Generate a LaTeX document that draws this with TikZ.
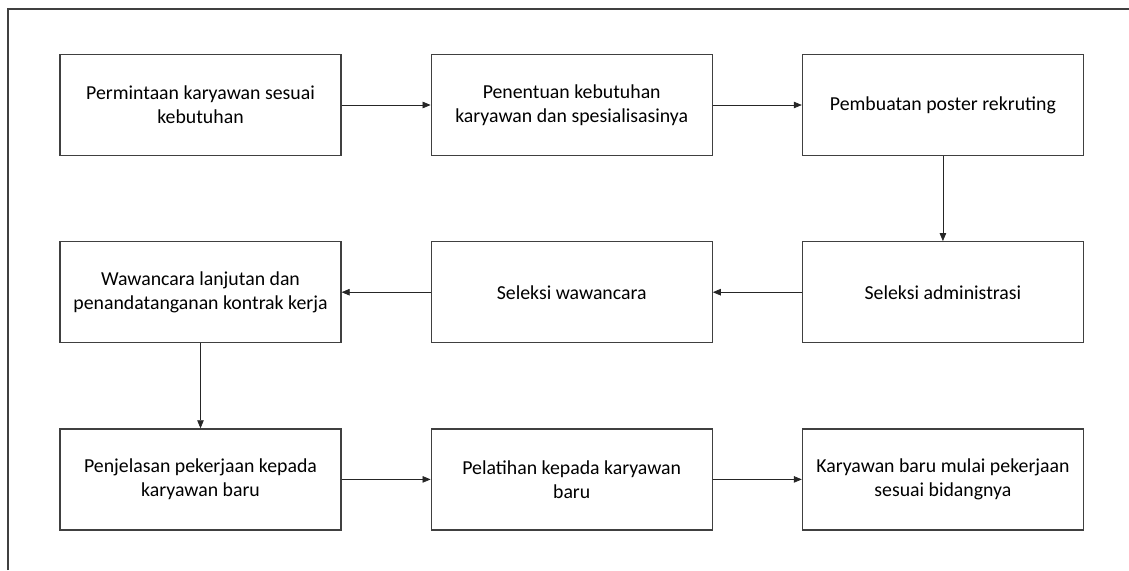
\documentclass[tikz,border=0pt]{standalone}
\usepackage{fontspec}
\setmainfont{Carlito}
\usetikzlibrary{arrows.meta,positioning}
\tikzset{block/.style={draw=black!75,line width=1.2pt,align=center,minimum width=281pt,minimum height=101pt,inner sep=0pt,font=\fontsize{19.8}{24}\selectfont},edge/.style={-{Triangle[length=8pt,width=6.5pt]},line width=0.7pt,draw=black!85}}
\begin{document}
\begin{tikzpicture}[x=1pt,y=-1pt,node distance=85pt and 89pt]
\useasboundingbox (0,0) rectangle (1129,570);
\draw[black!75,line width=1.2pt] (8,570) -- (8,9) -- (1129,9);
\node[block] (minta) at (200.5,105) {Permintaan karyawan sesuai\\kebutuhan};
\node[block,right=of minta] (tentu) {Penentuan kebutuhan\\karyawan dan spesialisasinya};
\node[block,right=of tentu] (poster) {Pembuatan poster rekruting};
\node[block,below=of poster] (admin) {Seleksi administrasi};
\node[block,left=of admin] (wawan) {Seleksi wawancara};
\node[block,left=of wawan] (kontrak) {Wawancara lanjutan dan\\penandatanganan kontrak kerja};
\node[block,below=of kontrak] (jelas) {Penjelasan pekerjaan kepada\\karyawan baru};
\node[block,right=of jelas] (latih) {Pelatihan kepada karyawan\\baru};
\node[block,right=of latih] (mulai) {Karyawan baru mulai pekerjaan\\sesuai bidangnya};
\draw[edge](minta)--(tentu);\draw[edge](tentu)--(poster);\draw[edge](poster)--(admin);
\draw[edge](admin)--(wawan);\draw[edge](wawan)--(kontrak);\draw[edge](kontrak)--(jelas);
\draw[edge](jelas)--(latih);\draw[edge](latih)--(mulai);
\end{tikzpicture}
\end{document}
